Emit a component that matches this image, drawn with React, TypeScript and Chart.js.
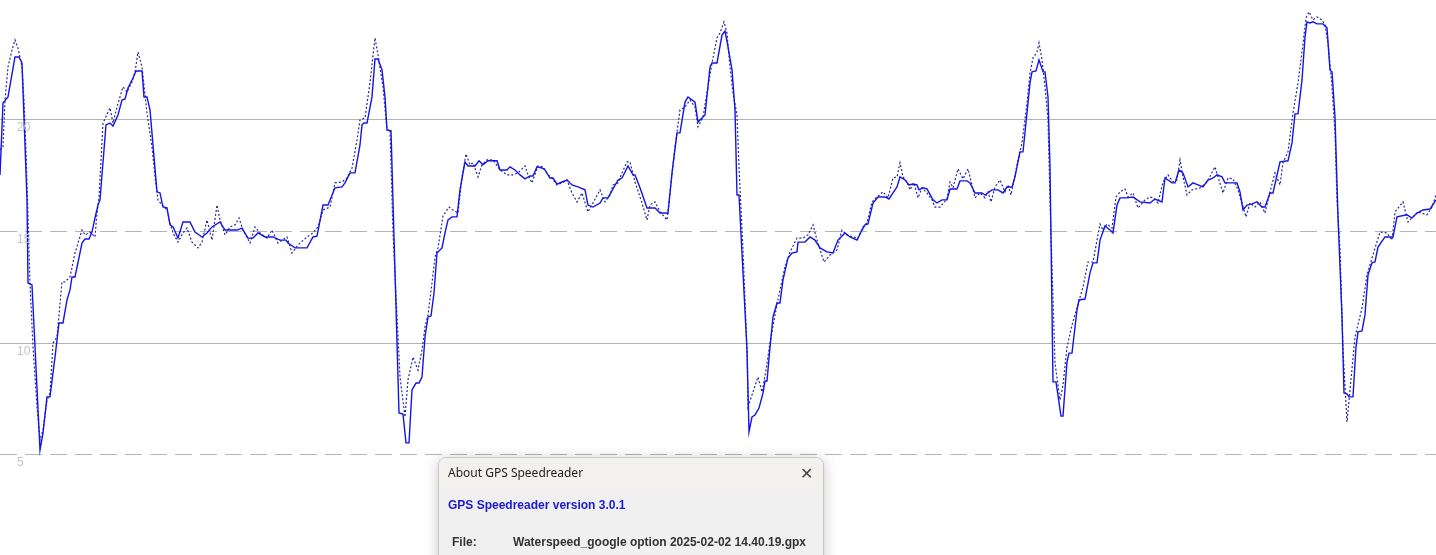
import React, { useEffect, useRef } from "react";
import { Chart, registerables } from "chart.js";

Chart.register(...registerables);

// Speed (knots) vs time (s)
const solidTime = [0,3,8,15,19,22,27,28,32,40,43,47,50,55,59,63,67,70,72,75,82,85,89,92,95,98,100,106,110,113,118,122,125,128,133,136,142,144,147,150,157,160,163,167,170,173,178,183,190,195,202,207,212,220,225,237,242,248,253,258,265,273,280,286,288,295,307,313,317,323,328,335,342,345,350,355,360,362,364,367,372,375,378,382,385,387,391,399,403,406,409,412,416,419,422,425,428,431,434,437,442,445,448,452,457,460,465,468,475,479,483,488,497,500,507,510,515,520,525,530,533,537,542,545,550,553,557,562,567,572,578,585,588,593,600,603,608,613,618,622,628,633,635,640,647,655,660,668,672,677,680,685,688,695,698,702,705,710,712,717,722,725,728,732,735,737,739,747,749,752,755,759,763,765,767,770,773,777,780,783,788,792,797,798,805,810,815,820,827,833,838,845,850,857,862,865,868,873,878,885,889,893,897,900,905,909,913,917,919,923,927,933,937,942,947,950,957,960,967,970,975,982,985,992,998,1003,1007,1012,1015,1020,1023,1027,1030,1032,1036,1039,1043,1045,1048,1050,1053,1056,1061,1063,1067,1069,1072,1077,1079,1085,1090,1093,1097,1100,1105,1110,1113,1117,1120,1127,1133,1140,1150,1155,1162,1165,1172,1175,1179,1183,1188,1193,1198,1203,1208,1213,1217,1222,1225,1230,1237,1240,1243,1247,1252,1257,1262,1265,1270,1273,1280,1288,1292,1295,1298,1302,1305,1307,1310,1313,1317,1323,1327,1330,1332,1335,1338,1342,1344,1347,1349,1353,1356,1358,1362,1365,1368,1372,1375,1378,1385,1393,1397,1407,1412,1417,1423,1430,1436];
const solidSpeed = [17.54,20.76,21.03,22.82,22.82,22.55,16.42,12.70,12.61,5.22,5.98,7.60,7.60,9.38,10.91,10.91,11.94,12.39,12.97,12.97,14.49,14.67,14.67,14.98,15.61,16.19,16.42,19.78,19.86,19.73,20.22,20.89,20.94,21.43,21.88,22.19,22.19,21.03,21.03,20.45,16.78,16.73,16.10,16.06,15.30,15.21,14.71,15.43,15.43,14.98,14.76,14.94,15.21,15.43,15.07,15.07,15.16,14.71,14.71,14.94,14.76,14.76,14.62,14.62,14.49,14.27,14.27,14.76,14.80,16.19,16.19,16.96,17.00,17.18,17.63,17.63,18.88,19.78,19.86,19.86,21.03,22.73,22.73,22.24,21.03,19.55,19.51,6.88,6.83,5.54,5.54,7.91,8.22,8.22,8.49,10.28,11.18,11.22,12.25,14.04,14.27,14.94,15.52,15.66,15.66,16.87,18.12,17.94,17.94,18.17,17.99,18.17,18.17,17.76,17.76,17.90,17.76,17.54,17.36,17.49,17.49,17.90,17.85,17.76,17.40,17.40,17.13,17.22,17.31,17.09,17.00,16.87,16.19,16.10,16.28,16.51,16.51,16.91,17.31,17.40,17.94,17.54,17.54,16.96,16.06,16.06,15.83,15.83,17.63,19.42,19.42,20.80,21.03,20.80,19.91,20.09,20.22,22.37,22.55,22.55,23.80,23.98,23.27,22.24,20.45,16.64,16.64,9.70,6.03,6.70,6.79,7.10,7.77,8.31,8.31,9.83,11.18,11.80,11.80,12.84,13.82,14.04,14.09,14.53,14.53,14.76,14.62,14.27,14.09,14.04,14.62,14.94,14.76,14.62,15.07,15.30,15.34,16.28,16.55,16.55,16.46,16.73,17.00,17.45,17.31,17.09,17.13,17.09,16.87,16.96,16.91,16.42,16.28,16.42,16.42,16.91,16.91,17.27,17.27,17.18,16.73,16.73,16.64,16.87,16.87,16.73,17.00,17.00,17.45,18.57,18.57,20.31,21.66,22.15,22.19,22.69,22.15,22.15,21.03,17.90,8.27,8.27,6.74,6.74,9.16,9.56,9.56,11.49,11.94,11.98,13.15,13.60,13.60,14.62,15.25,15.07,14.94,16.19,16.51,16.51,16.55,16.33,16.28,16.46,16.33,17.40,17.18,17.18,17.76,17.63,17.00,17.18,17.09,17.00,17.31,17.40,17.54,17.45,17.18,17.18,17.18,16.78,15.97,16.19,16.24,16.33,16.10,16.10,16.73,16.73,18.12,18.17,18.97,20.27,20.27,21.79,23.71,24.39,24.34,24.39,24.30,24.30,24.12,22.24,22.15,20.13,15.66,11.18,7.77,7.73,7.60,7.60,9.83,10.51,10.55,11.27,13.06,13.60,13.64,14.31,14.76,14.76,15.66,15.75,15.61,15.83,15.97,16.01,16.42];

const dottedTime = [0,3,5,8,12,15,18,22,24,26,30,33,37,40,43,47,50,53,57,62,65,70,75,82,85,90,95,97,99,103,110,113,117,123,127,132,135,138,142,147,152,155,158,162,167,170,173,178,183,187,192,198,202,207,212,217,220,225,230,235,239,243,250,255,260,267,272,278,287,292,298,307,313,318,323,330,335,342,347,352,357,360,365,370,375,378,383,387,390,393,400,405,408,413,418,422,425,428,432,435,438,443,449,453,458,462,466,470,473,478,482,487,493,500,507,513,518,525,528,532,538,543,548,552,557,562,567,572,577,582,588,593,600,605,610,613,618,622,627,630,635,642,647,650,655,660,667,670,675,680,685,690,695,698,703,707,712,717,720,724,727,730,733,737,739,743,747,748,753,758,762,766,770,775,780,785,790,797,803,808,813,817,824,830,837,842,847,853,858,863,867,872,877,883,888,893,897,900,903,907,910,914,918,922,927,932,935,940,947,950,953,958,963,968,972,975,980,985,988,991,995,1000,1005,1008,1011,1013,1018,1022,1027,1030,1033,1037,1039,1042,1045,1048,1050,1055,1060,1063,1067,1072,1077,1083,1088,1093,1097,1100,1103,1107,1112,1116,1120,1125,1128,1133,1138,1145,1150,1153,1158,1163,1168,1173,1177,1180,1183,1187,1192,1200,1207,1215,1218,1223,1228,1233,1238,1242,1246,1250,1255,1260,1265,1270,1275,1280,1283,1288,1293,1298,1302,1306,1309,1313,1317,1322,1325,1328,1332,1335,1337,1340,1343,1347,1350,1355,1362,1367,1372,1380,1387,1392,1395,1403,1408,1413,1418,1427,1432,1436];
const dottedSpeed = [18.66,18.79,20.89,22.37,23.13,23.58,23.22,22.37,20.89,18.66,12.70,9.83,7.15,5.67,6.12,7.46,7.77,10.01,10.28,12.75,12.75,12.97,14.04,15.07,14.85,14.98,14.76,15.83,16.55,19.86,20.54,19.86,20.58,21.48,21.25,21.70,22.15,23.04,22.37,20.31,18.79,17.45,16.42,16.19,15.97,15.39,14.94,14.53,14.94,15.16,14.53,14.27,14.53,15.52,14.62,16.19,15.52,14.85,15.21,15.30,15.61,15.07,14.49,15.21,14.94,14.71,15.07,14.49,14.76,14.04,14.40,14.76,14.94,15.21,15.97,16.10,17.18,17.22,17.40,17.85,19.10,20.00,20.09,21.66,23.67,22.91,21.48,19.55,19.55,14.94,8.49,6.70,8.36,9.38,8.80,9.70,10.73,11.27,12.70,13.86,14.27,15.70,16.10,15.97,15.83,17.45,18.48,17.99,18.08,17.45,17.99,18.21,18.21,17.76,17.54,17.54,17.63,17.94,17.54,17.18,17.94,17.90,17.54,17.40,17.09,17.18,17.31,16.73,16.33,16.73,15.88,16.28,16.87,16.33,16.64,17.09,17.18,17.63,18.12,18.12,17.22,16.28,15.52,16.19,16.33,15.88,15.52,16.73,18.79,20.45,20.58,20.89,20.58,19.69,20.13,21.21,22.55,23.67,23.89,24.39,23.89,22.37,21.21,20.22,17.90,14.18,9.70,7.15,7.82,8.49,7.82,8.80,10.01,11.27,12.39,13.42,14.09,14.71,14.71,14.85,15.30,14.62,13.64,13.95,14.18,15.07,14.85,14.76,14.71,15.21,15.39,16.33,16.55,16.78,16.51,17.40,17.45,18.08,17.45,17.22,16.87,17.18,16.51,16.96,16.73,16.42,16.10,16.10,16.46,17.22,16.96,17.81,17.36,17.81,17.09,16.51,16.73,16.51,16.78,16.33,17.00,17.31,16.78,17.09,16.64,17.09,18.21,18.97,20.76,22.10,22.78,23.04,23.45,22.69,21.48,20.00,16.42,9.12,7.46,8.13,9.83,10.82,11.58,12.52,13.64,13.64,14.62,15.34,15.07,15.34,15.16,16.55,16.78,16.91,16.55,16.73,16.06,16.42,16.55,16.51,16.28,17.22,17.54,17.22,17.31,18.21,17.45,16.64,16.87,16.96,17.22,17.90,17.45,16.73,17.40,17.36,16.87,16.28,15.66,16.28,16.10,16.33,15.83,16.78,17.63,17.09,18.08,18.57,20.31,21.66,23.04,24.57,24.84,24.48,24.61,24.48,24.25,23.45,21.48,19.42,16.42,14.18,9.70,6.48,7.91,10.28,11.58,13.06,13.82,14.98,14.94,14.62,15.88,16.33,15.43,15.66,15.88,15.75,16.10,16.64];

const yTicks = [5, 10, 15, 20];
const solidTickValues = [10, 20];

const toPoints = (t: number[], v: number[]) => t.map((x, i) => ({ x, y: v[i] }));

const tickLabelPlugin = {
  id: "tickLabels",
  afterDatasetsDraw(chart: any) {
    const { ctx, scales } = chart;
    const y = scales.y;
    ctx.save();
    ctx.fillStyle = "#c4c4c4";
    ctx.font = "12px 'Liberation Sans', Arial, sans-serif";
    ctx.textAlign = "left";
    ctx.textBaseline = "middle";
    yTicks.forEach((v) => {
      ctx.fillText(String(v), chart.chartArea.left + 17, y.getPixelForValue(v) + 8);
    });
    ctx.restore();
  },
};

function SpeedChart() {
  const ref = useRef<HTMLCanvasElement | null>(null);
  useEffect(() => {
    if (!ref.current) return;
    const chart = new Chart(ref.current, {
      type: "line",
      data: {
        datasets: [
          {
            label: "Speed (smoothed)",
            data: toPoints(solidTime, solidSpeed),
            borderColor: "#1414e6",
            borderWidth: 1.4,
            pointRadius: 0,
            tension: 0,
            fill: false,
          },
          {
            label: "Speed (raw)",
            data: toPoints(dottedTime, dottedSpeed),
            borderColor: "#26269a",
            borderWidth: 1.2,
            borderDash: [2, 2],
            pointRadius: 0,
            tension: 0,
            fill: false,
          },
        ],
      },
      options: {
        animation: false,
        responsive: false,
        maintainAspectRatio: false,
        devicePixelRatio: 1,
        layout: { padding: 0 },
        plugins: { legend: { display: false }, tooltip: { enabled: false } },
        scales: {
          x: { type: "linear", min: 0, max: 1436, display: false },
          y: {
            type: "linear",
            min: 0.52,
            max: 25.37,
            afterBuildTicks: (axis: any) => {
              axis.ticks = yTicks.map((v) => ({ value: v }));
            },
            afterFit: (axis: any) => {
              axis.width = 0;
            },
            grid: {
              drawTicks: false,
              color: "#b4b4b4",
              lineWidth: 1,
            },
            border: {
              display: false,
              dash: (ctx: any) =>
                ctx.tick && !solidTickValues.includes(ctx.tick.value) ? [17, 8] : [],
            },
            ticks: { display: false },
          },
        },
      },
      plugins: [tickLabelPlugin],
    });
    return () => chart.destroy();
  }, []);
  return <canvas ref={ref} width={1436} height={555} style={{ display: "block" }} />;
}

export default function App() {
  return (
    <div
      style={{
        position: "fixed",
        left: 0,
        top: 0,
        width: 1436,
        height: 555,
        overflow: "hidden",
        background: "#ffffff",
      }}
    >
      <SpeedChart />
      <div
        style={{
          position: "absolute",
          left: 438,
          top: 457,
          width: 384,
          height: 130,
          background: "#f0f0f0",
          border: "1px solid #c8c8c8",
          borderRadius: 8,
          boxShadow: "0 2px 14px rgba(0,0,0,0.22)",
          fontFamily: "'Liberation Sans', Arial, sans-serif",
          overflow: "hidden",
        }}
      >
        <div
          style={{
            height: 30,
            background: "#f3f1ed",
            position: "relative",
            fontFamily: "'Noto Sans', 'Open Sans', sans-serif",
            fontSize: 12,
            color: "#1e1e1e",
          }}
        >
          <span style={{ position: "absolute", left: 9, top: 6 }}>About GPS Speedreader</span>
          <span style={{ position: "absolute", left: 361, top: 4, fontSize: 16, fontWeight: 200, color: "#444" }}>✕</span>
        </div>
        <div
          style={{
            position: "absolute",
            left: 9,
            top: 40,
            fontSize: 12,
            fontWeight: "bold",
            color: "#1a1ad2",
          }}
        >
          GPS Speedreader version 3.0.1
        </div>
        <div style={{ position: "absolute", left: 13, top: 77, fontSize: 12, fontWeight: "bold", color: "#333" }}>
          File:
        </div>
        <div style={{ position: "absolute", left: 74, top: 77, fontSize: 12, fontWeight: "bold", color: "#333" }}>
          Waterspeed_google option 2025-02-02 14.40.19.gpx
        </div>
      </div>
    </div>
  );
}
